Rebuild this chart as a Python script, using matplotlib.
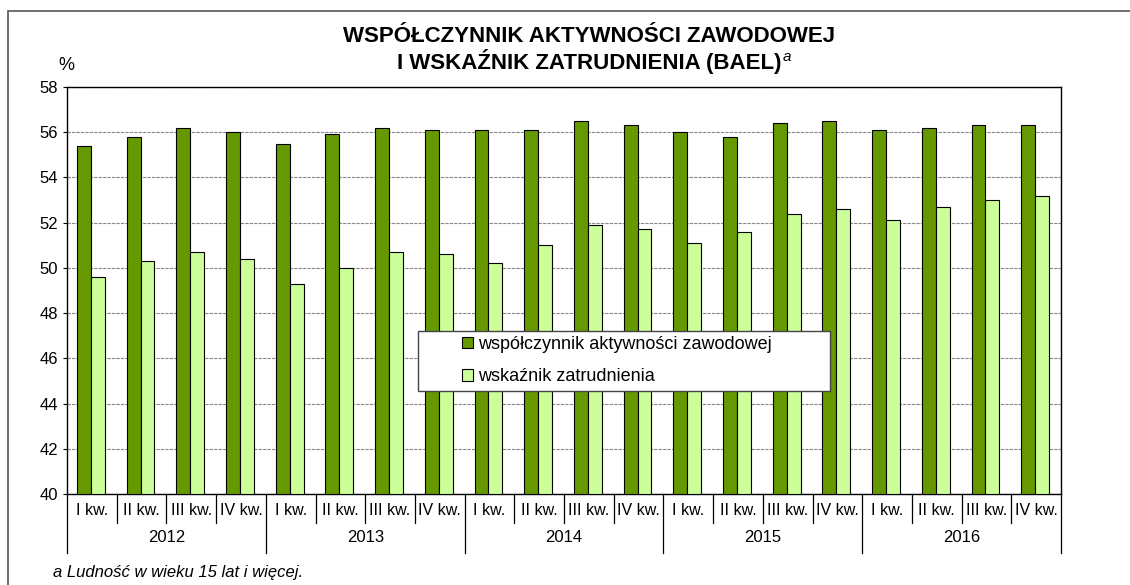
import numpy as np
import matplotlib
matplotlib.use("Agg")
import matplotlib.pyplot as plt
from matplotlib.patches import Rectangle

plt.rcParams['font.family'] = ['Liberation Sans', 'DejaVu Sans']

# Dane
lata = ["2012", "2013", "2014", "2015", "2016"]
kwartaly = ["I kw.", "II kw.", "III kw.", "IV kw."]
aktywnosc = [55.4, 55.8, 56.2, 56.0, 55.5, 55.9, 56.2, 56.1, 56.1, 56.1,
             56.5, 56.3, 56.0, 55.8, 56.4, 56.5, 56.1, 56.2, 56.3, 56.3]
zatrudnienie = [49.6, 50.3, 50.7, 50.4, 49.3, 50.0, 50.7, 50.6, 50.2, 51.0,
                51.9, 51.7, 51.1, 51.6, 52.4, 52.6, 52.1, 52.7, 53.0, 53.2]

W, H = 1130, 585
fig = plt.figure(figsize=(W / 100, H / 100), dpi=100)
ax = fig.add_axes([67 / W, 1 - 494 / H, (1061 - 67) / W, (494 - 87) / H])

# ramka wokol calego rysunku
fig.patches.append(Rectangle((8 / W, -0.1), 1.2, 1 - 11 / H + 0.1,
                             transform=fig.transFigure, fill=False,
                             edgecolor="#555555", linewidth=1.2))

n = len(aktywnosc)
x = np.arange(n)
w = 0.28
ax.bar(x + 0.2, [v - 40 for v in aktywnosc], width=w, bottom=40, align="edge",
       color="#669900", edgecolor="black", linewidth=0.8,
       label="współczynnik aktywności zawodowej", zorder=3)
ax.bar(x + 0.2 + w, [v - 40 for v in zatrudnienie], width=w, bottom=40, align="edge",
       color="#CCFF99", edgecolor="black", linewidth=0.8,
       label="wskaźnik zatrudnienia", zorder=3)

ax.set_xlim(0, n)
ax.set_ylim(40, 58)
ax.set_yticks(np.arange(40, 59, 2))
ax.tick_params(axis="y", labelsize=12, length=3, direction="out")
ax.set_xticks([])
ax.yaxis.grid(True, linestyle=(0, (3, 1)), color="#888888", linewidth=0.8, zorder=0)
for s in ax.spines.values():
    s.set_linewidth(1)

# etykiety osi x
xt = ax.get_xaxis_transform()
for i in range(n):
    ax.text(i + 0.5, -0.04, kwartaly[i % 4], transform=xt,
            ha="center", va="center", fontsize=11.5)
for i in range(n + 1):
    dl = -0.145 if i % 4 == 0 else -0.072
    ax.plot([i, i], [0, dl], transform=xt, color="black", linewidth=0.9, clip_on=False)
for j, rok in enumerate(lata):
    ax.text(4 * j + 2, -0.108, rok, transform=xt, ha="center", va="center", fontsize=12)

fig.text(66 / W, 1 - 65 / H, "%", ha="center", va="center", fontsize=13)

# legenda: ramka osobno, wpisy bez ramki
fig.patches.append(Rectangle((418 / W, 1 - 391 / H), (830 - 418) / W, 60 / H,
                             transform=fig.transFigure, facecolor="white",
                             edgecolor="#444444", linewidth=1, zorder=5))
leg = ax.legend(loc="upper left", bbox_to_anchor=(462 / W, 1 - 336 / H),
                bbox_transform=fig.transFigure, fontsize=13, frameon=False,
                handlelength=0.62, handleheight=0.62, handletextpad=0.25,
                borderpad=0, labelspacing=0.85, borderaxespad=0)
leg.remove()
fig.legends.append(leg)
leg.set_zorder(6)

# tytul
fig.text(589 / W, 1 - 37 / H, "WSPÓŁCZYNNIK AKTYWNOŚCI ZAWODOWEJ",
         ha="center", va="center", fontsize=16, fontweight="bold")
t2 = fig.text(589 / W, 1 - 61 / H, "I WSKAŹNIK ZATRUDNIENIA (BAEL)",
              ha="center", va="center", fontsize=16, fontweight="bold")
fig.canvas.draw()
bb = t2.get_window_extent()
fig.text(bb.x1 / W + 0.001, 1 - 57 / H, "a", ha="left", va="center",
         fontsize=11, style="italic")

fig.text(53 / W, 1 - 572 / H, "a Ludność w wieku 15 lat i więcej.",
         ha="left", va="center", fontsize=12, style="italic")

fig.savefig("out.png", dpi=100)
